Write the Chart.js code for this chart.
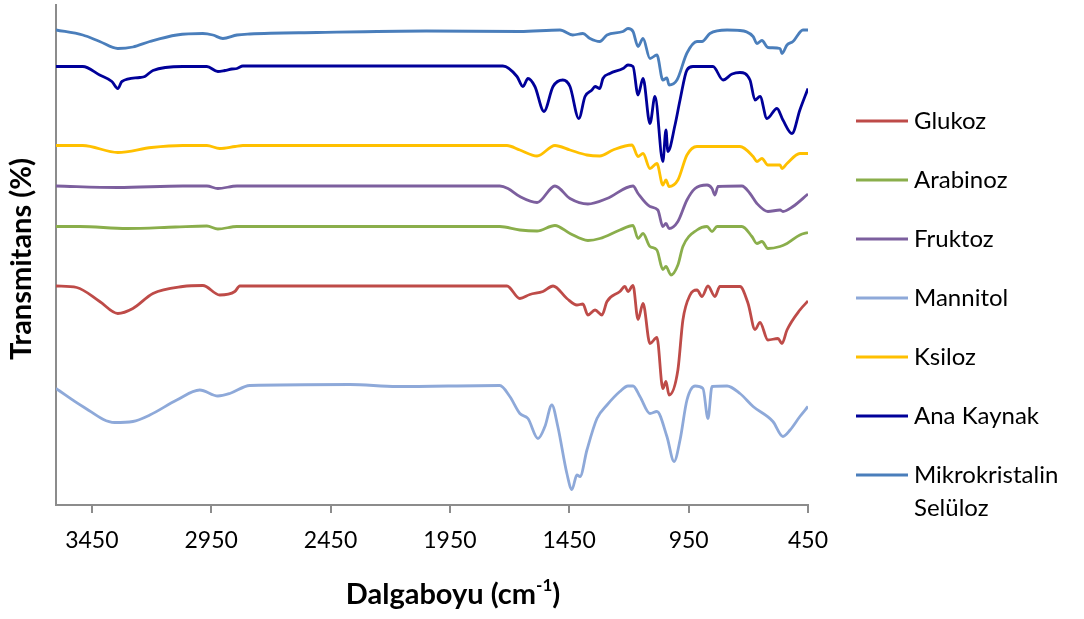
<!DOCTYPE html>
<html>
<head>
<meta charset="utf-8">
<script src="https://cdn.jsdelivr.net/npm/chart.js@4"></script>
<style>
  html, body { margin: 0; padding: 0; background: #fff; }
  #wrap { width: 1084px; height: 619px; position: relative; }
</style>
</head>
<body>
<div id="wrap"><canvas id="ftir"></canvas></div>
<script>
// wavenumber (cm-1), transmittance offset (%)
const glukoz = [[3600,43.8],[3513,43.5],[3417,40.7],[3341,38.3],[3278,39.3],[3194,42.3],[3069,43.7],[2985,43.9],[2914,42],[2851,42.7],[2830,43.8],[1711,43.8],[1657,41.3],[1615,42.1],[1560,42.7],[1518,43.8],[1460,41.3],[1418,40],[1393,40.2],[1372,38],[1342,39],[1313,38],[1292,40.7],[1238,42.7],[1217,43.7],[1204,42.7],[1183,43.9],[1162,37.1],[1141,40.3],[1112,32.3],[1083,33.5],[1058,23.3],[1045,24.7],[1032,22],[995,27],[974,37],[944,42],[915,43],[894,41.7],[869,43.8],[840,41.7],[819,43.7],[735,43.7],[701,40.3],[672,35.1],[651,36.5],[618,33],[576,33.3],[559,32.3],[538,35],[484,39],[450,40.8]];
const arabinoz = [[3600,55.7],[3500,55.7],[3303,55.3],[3100,55.6],[2968,55.8],[2922,55.2],[2842,55.7],[1741,55.7],[1657,55],[1585,54.8],[1510,55.9],[1447,54.3],[1372,52.9],[1322,53.3],[1238,55],[1183,55.9],[1162,53.3],[1141,54.3],[1112,51.7],[1083,51],[1058,47.1],[1045,47.7],[1024,46],[995,48],[974,51.7],[915,55],[873,55.7],[852,54.7],[831,55.7],[727,55.7],[685,53.7],[664,52.3],[643,52.7],[618,51.3],[567,51.7],[538,52.3],[484,54],[450,54.5]];
const fruktoz = [[3600,63.8],[3341,63.5],[3069,63.8],[2968,63.8],[2922,63.3],[2842,63.8],[1741,63.8],[1707,63.3],[1657,61.7],[1585,60.5],[1510,63.8],[1447,61.3],[1372,60.2],[1292,61.3],[1183,63.8],[1162,62.3],[1112,59.7],[1079,59],[1058,55.7],[1045,56.3],[1032,55.3],[995,56.7],[957,61],[923,63.3],[873,64],[852,63.3],[840,62],[827,63.7],[727,63.8],[693,62.3],[664,60.3],[618,58.7],[567,59],[555,58.7],[513,59.7],[450,62.2]];
const mannitol = [[3600,23.3],[3488,19.7],[3354,16.5],[3278,16.7],[3207,18],[3094,21],[2998,23],[2922,21.8],[2872,22.3],[2788,23.9],[2369,24.1],[2172,23.7],[1741,23.9],[1699,21.7],[1657,18.3],[1623,17.3],[1581,13.3],[1552,15.7],[1523,20],[1498,15.7],[1460,6.3],[1439,3.1],[1418,6],[1405,5.7],[1376,11],[1334,17.3],[1292,20],[1238,22.7],[1204,23.8],[1183,23.8],[1154,21.7],[1112,18.3],[1083,18.7],[1041,13.7],[1011,8.7],[986,13],[957,21],[923,23.8],[890,23.3],[869,17.3],[852,23.7],[789,23.8],[735,22.3],[680,19.7],[597,16.7],[555,13.7],[525,15],[484,17.7],[450,19.7]];
const ksiloz = [[3600,71.9],[3488,71.9],[3341,70.5],[3200,71.5],[3069,71.9],[2968,71.9],[2914,71.3],[2850,71.7],[2817,71.9],[1711,71.9],[1657,71],[1585,69.8],[1510,71.9],[1447,71],[1376,70],[1322,69.8],[1267,71],[1187,72],[1162,69.7],[1141,70.3],[1112,67.3],[1083,68.3],[1058,64],[1045,65],[1032,63.7],[995,65],[957,70],[915,71.7],[735,71.7],[680,69.7],[664,68.7],[643,69.3],[618,68],[567,68],[559,67.3],[538,68.3],[484,70.3],[450,70.3]];
const anaKaynak = [[3600,87.7],[3488,87.7],[3417,86],[3366,84.7],[3341,83.3],[3324,84.7],[3249,85.5],[3228,85.7],[3194,86.9],[3069,87.7],[2968,87.7],[2922,86.7],[2893,86.9],[2863,87.2],[2842,87.3],[2817,87.8],[1728,87.8],[1669,85.7],[1644,83.7],[1623,85.3],[1594,83.7],[1556,78.7],[1518,83.7],[1477,85],[1447,83.7],[1410,77.3],[1384,81.7],[1355,83],[1342,83.7],[1322,83.3],[1309,85.3],[1280,86.3],[1225,87.3],[1204,88],[1183,87.7],[1162,82],[1141,85.3],[1112,76.3],[1091,81.7],[1058,68.7],[1045,75],[1037,70.7],[1007,76],[986,81],[957,87],[932,87.7],[848,87.7],[806,85],[768,86.2],[735,86.5],[693,85],[672,81],[651,81.7],[622,77.3],[580,79.3],[555,77],[517,74.3],[484,79],[450,83.3]];
const mikrokristalin = [[3600,95],[3488,94],[3417,92.7],[3341,91.3],[3278,91.6],[3207,92.7],[3094,94],[2985,94.3],[2943,94],[2901,93.3],[2842,94],[2788,94.2],[2507,94.5],[2050,94.8],[1657,94.7],[1489,95],[1435,94],[1393,94.3],[1363,93.3],[1322,92.7],[1292,94],[1225,94.7],[1204,95.3],[1183,94.7],[1162,91.7],[1141,93.3],[1112,89.3],[1083,90],[1058,85],[1041,85.4],[1032,84],[999,85],[957,90.4],[915,92.7],[894,92.7],[861,94.3],[789,95],[735,94.9],[680,93.7],[664,92.3],[643,92.9],[618,91.5],[567,91.3],[559,90.3],[538,92],[513,92.7],[471,95],[450,95]];

const seriesNames = ["Glukoz", "Arabinoz", "Fruktoz", "Mannitol", "Ksiloz", "Ana Kaynak", "Mikrokristalin Selüloz"];
const seriesData = [glukoz, arabinoz, fruktoz, mannitol, ksiloz, anaKaynak, mikrokristalin];
const seriesColors = ["#BE4B48", "#8AAE4B", "#7C5F9E", "#8EA9D9", "#FFC000", "#000099", "#4A7EBB"];
const xTicks = [3450, 2950, 2450, 1950, 1450, 950, 450];

const datasets = seriesData.map((d, i) => ({
  label: seriesNames[i],
  data: d.map(p => ({ x: p[0], y: p[1] })),
  borderColor: seriesColors[i],
  backgroundColor: seriesColors[i],
  borderWidth: 2.8,
  pointRadius: 0,
  tension: 0.3,
  cubicInterpolationMode: "monotone",
  fill: false
}));

// titles and the side legend
const decorations = {
  id: "decorations",
  afterDraw(chart) {
    const ctx = chart.ctx;
    ctx.save();
    ctx.fillStyle = "#000";
    ctx.textBaseline = "middle";

    // y title
    ctx.save();
    ctx.translate(22, 259);
    ctx.rotate(-Math.PI / 2);
    ctx.font = "bold 29px Lato";
    ctx.textAlign = "center";
    ctx.fillText("Transmitans (%)", 0, 0);
    ctx.restore();

    // x title with superscript
    const main = "Dalgaboyu (cm", sup = "-1", close = ")";
    ctx.font = "bold 29px Lato";
    const w1 = ctx.measureText(main).width;
    const w3 = ctx.measureText(close).width;
    ctx.font = "bold 17px Lato";
    const w2 = ctx.measureText(sup).width;
    let x = 453 - (w1 + w2 + w3) / 2;
    const y = 595;
    ctx.textAlign = "left";
    ctx.font = "bold 29px Lato";
    ctx.fillText(main, x, y);
    x += w1;
    ctx.font = "bold 17px Lato";
    ctx.fillText(sup, x, y - 9);
    x += w2;
    ctx.font = "bold 29px Lato";
    ctx.fillText(close, x, y);

    // legend
    ctx.font = "24px Lato";
    chart.data.datasets.forEach((ds, i) => {
      const ly = 121 + i * 59;
      ctx.strokeStyle = ds.borderColor;
      ctx.lineWidth = 3;
      ctx.beginPath();
      ctx.moveTo(856, ly);
      ctx.lineTo(908, ly);
      ctx.stroke();
      const words = ds.label.split(" ");
      if (ctx.measureText(ds.label).width > 160) {
        words.forEach((wd, k) => ctx.fillText(wd, 914, ly + k * 33));
      } else {
        ctx.fillText(ds.label, 914, ly);
      }
    });
    ctx.restore();
  }
};

new Chart(document.getElementById("ftir"), {
  type: "line",
  data: { datasets: datasets },
  options: {
    responsive: true,
    maintainAspectRatio: false,
    animation: false,
    layout: { padding: { top: 5, right: 276, left: 0, bottom: 0 } },
    plugins: {
      legend: { display: false },
      tooltip: { enabled: false }
    },
    scales: {
      x: {
        type: "linear",
        reverse: true,
        min: 450,
        max: 3600,
        afterBuildTicks: (scale) => { scale.ticks = xTicks.map(v => ({ value: v })); },
        afterFit: (scale) => { scale.height = 114; },
        ticks: {
          autoSkip: false,
          maxRotation: 0,
          padding: 14,
          color: "#000",
          font: { family: "Lato", size: 23 },
          callback: (v) => String(v)
        },
        grid: { display: true, drawOnChartArea: false, drawTicks: true, tickLength: 8, color: "#8C8C8C", lineWidth: 2 },
        border: { display: true, color: "#8C8C8C", width: 2 }
      },
      y: {
        min: 0,
        max: 100,
        afterFit: (scale) => { scale.width = 56; },
        ticks: { display: false },
        grid: { display: false, drawOnChartArea: false, drawTicks: false },
        border: { display: true, color: "#8C8C8C", width: 2 }
      }
    }
  },
  plugins: [decorations]
});
</script>
</body>
</html>
